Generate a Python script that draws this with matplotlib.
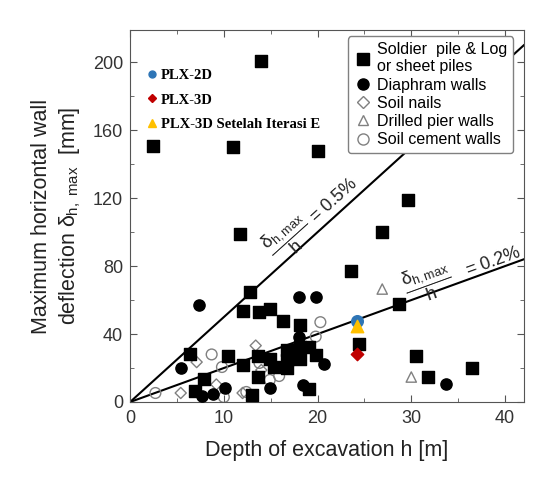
import matplotlib
matplotlib.use('Agg')
import matplotlib.pyplot as plt
from matplotlib.lines import Line2D

plt.rcParams['font.family'] = ['Liberation Sans', 'DejaVu Sans']
plt.rcParams['mathtext.fontset'] = 'custom'
plt.rcParams['mathtext.rm'] = 'Liberation Sans'
plt.rcParams['mathtext.it'] = 'Liberation Sans'

# soldier pile & log or sheet piles
sq_x = [2.4, 11.0, 20.1, 14.0, 11.7, 29.6, 26.9, 23.6, 28.7, 24.4, 30.5, 31.8, 36.5,
        6.4, 10.4, 7.9, 6.9, 12.8, 12.0, 13.7, 14.9, 16.3, 18.1, 12.0, 13.6, 14.9,
        15.4, 16.7, 16.7, 16.7, 18.1, 19.1, 18.1, 19.8, 13.6, 19.1, 13.0]
sq_y = [151, 150, 148, 201, 99, 119, 100, 77, 57.6, 34, 27, 14.7, 20,
        28, 27, 13.5, 6.5, 64.7, 53.6, 53, 54.7, 47.6, 45.3, 21.8, 27, 25.3,
        20.6, 30.6, 24.7, 20, 32.4, 32.4, 25.3, 27.6, 14.7, 7.6, 4.1]

# diaphragm walls
ci_x = [33.7, 19.8, 18.0, 20.7, 7.4, 5.4, 10.1, 7.7, 8.8, 18.0, 14.9, 18.4]
ci_y = [10.6, 62, 62, 22.2, 57, 20, 8.2, 3.5, 4.7, 38.2, 8.2, 10.3]

# soil nails
di_x = [7.1, 9.2, 5.4, 13.4, 14.0, 12.0]
di_y = [23.5, 10.3, 5.3, 33.2, 18.8, 5.3]

# drilled pier walls
tr_x = [26.9, 30.0]
tr_y = [66.5, 14.7]

# soil cement walls
oc_x = [20.3, 19.8, 8.7, 9.8, 2.7, 10.0, 13.8, 14.9, 15.9, 12.4]
oc_y = [47, 38.5, 28, 20.6, 5.3, 2.9, 23, 13, 15.3, 5.9]

# PLAXIS results
plx2d = (24.2, 47.6)
plx3d = (24.2, 28.0)
plx3d_iter = (24.2, 45.0)

ratios = [0.005, 0.002]

fig = plt.figure(figsize=(5.49, 4.8), dpi=100)
ax = fig.add_axes([0.237, 0.1625, 0.717, 0.775])

h = [0, 42]
for r in ratios:
    ax.plot(h, [r * 1000 * v for v in h], color='black', lw=1.5, zorder=2)

gray = '#808080'
ax.scatter(oc_x, oc_y, marker='o', s=60, facecolors='none', edgecolors=gray, linewidths=1.0, zorder=3)
ax.scatter(di_x, di_y, marker='D', s=32, facecolors='none', edgecolors=gray, linewidths=1.0, zorder=3)
ax.scatter(tr_x, tr_y, marker='^', s=55, facecolors='none', edgecolors=gray, linewidths=1.0, zorder=3)
ax.scatter(ci_x, ci_y, marker='o', s=65, color='black', zorder=4)
ax.scatter(sq_x, sq_y, marker='s', s=75, color='black', zorder=4)

ax.scatter([plx2d[0]], [plx2d[1]], marker='o', s=70, color='#2e75b6', zorder=5)
ax.scatter([plx3d_iter[0]], [plx3d_iter[1]], marker='^', s=80, color='#ffc000', zorder=6)
ax.scatter([plx3d[0]], [plx3d[1]], marker='D', s=40, color='#c00000', zorder=6)

ax.text(19.4, 109, r'$\dfrac{\delta_{h,max}}{h}$ = 0.5%', rotation=42, fontsize=13,
        ha='center', va='center', rotation_mode='anchor', color='#222222')
ax.text(35.5, 78, r'$\dfrac{\delta_{h,max}}{h}$   = 0.2%', rotation=20, fontsize=13,
        ha='center', va='center', rotation_mode='anchor', color='#222222')

ax.set_xlim(0, 42)
ax.set_ylim(0, 219)
ax.set_xticks([0, 10, 20, 30, 40])
ax.set_xticks([5, 15, 25, 35], minor=True)
ax.set_yticks([0, 40, 80, 120, 160, 200])
ax.set_yticks([20, 60, 100, 140, 180], minor=True)
ax.tick_params(which='both', direction='in', top=True, right=True, labelsize=13,
               labelcolor='#333333', color='#555555')
ax.tick_params(which='major', length=5)
ax.tick_params(which='minor', length=3)
ax.tick_params(axis='x', which='major', pad=6)
ax.tick_params(axis='y', which='major', pad=5)
for s in ax.spines.values():
    s.set_color('#555555')

ax.set_xlabel('Depth of excavation h [m]', fontsize=15.5, color='#222222', labelpad=9)
ax.set_ylabel('Maximum horizontal wall\ndeflection $\\delta_{h,\\ max}$  [mm]', fontsize=15.5,
              color='#222222', linespacing=1.3, labelpad=7)

type_handles = [
    Line2D([], [], ls='none', marker='s', color='black', markersize=8),
    Line2D([], [], ls='none', marker='o', color='black', markersize=8),
    Line2D([], [], ls='none', marker='D', mfc='none', mec=gray, markersize=6),
    Line2D([], [], ls='none', marker='^', mfc='none', mec=gray, markersize=7),
    Line2D([], [], ls='none', marker='o', mfc='none', mec=gray, markersize=8),
]
type_labels = ['Soldier  pile & Log\nor sheet piles', 'Diaphram walls', 'Soil nails',
               'Drilled pier walls', 'Soil cement walls']
leg1 = ax.legend(type_handles, type_labels, loc='upper right', fontsize=11.5,
                 handletextpad=0.3, labelspacing=0.2, borderpad=0.35,
                 handlelength=1.2, framealpha=1, edgecolor=gray,
                 bbox_to_anchor=(0.993, 1.004))
leg1.set_zorder(10)
ax.add_artist(leg1)

plx_handles = [
    Line2D([], [], ls='none', marker='o', color='#2e75b6', markersize=5),
    Line2D([], [], ls='none', marker='D', color='#c00000', markersize=4.5),
    Line2D([], [], ls='none', marker='^', color='#ffc000', markersize=6),
]
plx_labels = ['PLX-2D', 'PLX-3D', 'PLX-3D Setelah Iterasi E']
leg2 = ax.legend(plx_handles, plx_labels, loc='upper left', frameon=False,
                 prop={'family': 'Liberation Serif', 'weight': 'bold', 'size': 10.5},
                 handletextpad=0.0, handlelength=1.2, labelspacing=0.75,
                 bbox_to_anchor=(0.0, 0.93))

fig.savefig('out.png', dpi=100)
